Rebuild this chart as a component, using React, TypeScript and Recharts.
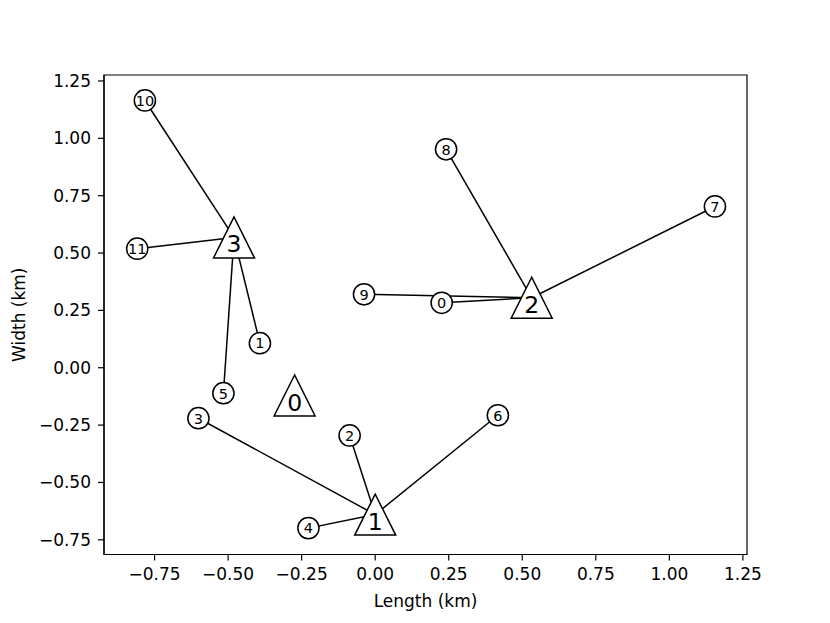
import { ScatterChart, Scatter, XAxis, YAxis, ReferenceArea } from 'recharts';

// turbines (circles), index = label
const turbineX = [0.226, -0.392, -0.087, -0.601, -0.227, -0.516, 0.417, 1.155, 0.241, -0.038, -0.783, -0.809];
const turbineY = [0.283, 0.107, -0.295, -0.220, -0.699, -0.111, -0.207, 0.703, 0.952, 0.320, 1.165, 0.519];

// substations (triangles), index = label
const subX = [-0.274, 0.0, 0.532, -0.480];
const subY = [-0.121, -0.64, 0.305, 0.568];

// [substation, turbine]
const links = [
  [3, 10], [3, 11], [3, 1], [3, 5],
  [2, 8], [2, 7], [2, 9], [2, 0],
  [1, 3], [1, 2], [1, 4], [1, 6],
];

const xTicks = [-0.75, -0.5, -0.25, 0, 0.25, 0.5, 0.75, 1.0, 1.25];
const yTicks = [-0.75, -0.5, -0.25, 0, 0.25, 0.5, 0.75, 1.0, 1.25];
const xDomain: [number, number] = [-0.922, 1.264];
const yDomain: [number, number] = [-0.814, 1.276];

const FONT = '"DejaVu Sans", sans-serif';

const turbines = turbineX.map((x, i) => ({ x, y: turbineY[i], label: String(i) }));
const subs = subX.map((x, i) => ({ x, y: subY[i], label: String(i) }));
const edges = links.map(([s, t]) => [
  { x: subX[s], y: subY[s] },
  { x: turbineX[t], y: turbineY[t] },
]);

const fmt = (v: number) => v.toFixed(2).replace('-', '\u2212');

const Circle = (props: any) => {
  const { cx, cy, payload } = props;
  return (
    <g>
      <circle cx={cx} cy={cy} r={10.6} fill="#fff" stroke="#000" strokeWidth={1.5} />
      <text x={cx} y={cy + 5.3} textAnchor="middle" fontSize={14.5} fontFamily={FONT} fill="#000">
        {payload.label}
      </text>
    </g>
  );
};

const Triangle = (props: any) => {
  const { cx, cy, payload } = props;
  const h = 20.5;
  return (
    <g>
      <polygon
        points={`${cx},${cy - h} ${cx - h},${cy + h} ${cx + h},${cy + h}`}
        fill="#fff"
        stroke="#000"
        strokeWidth={1.5}
        strokeLinejoin="miter"
      />
      <text x={cx} y={cy + 15} textAnchor="middle" fontSize={23.5} fontFamily={FONT} fill="#000">
        {payload.label}
      </text>
    </g>
  );
};

const tickStyle = { fill: '#000', fontSize: 17, fontFamily: FONT };

export default function App() {
  return (
    <div style={{ position: 'absolute', left: 0, top: 0, background: '#fff' }}>
      <ScatterChart width={830} height={623} margin={{ top: 75, right: 83, bottom: 0, left: 0 }}>
        <XAxis
          type="number"
          dataKey="x"
          domain={xDomain}
          allowDataOverflow
          ticks={xTicks}
          tickFormatter={fmt}
          height={68.5}
          tickSize={6}
          tickMargin={7}
          tick={tickStyle}
          axisLine={{ stroke: '#000', strokeWidth: 1.2 }}
          tickLine={{ stroke: '#000', strokeWidth: 1.2 }}
          label={({ viewBox }: any) => (
            <text
              x={viewBox.x + viewBox.width / 2}
              y={viewBox.y + 52}
              textAnchor="middle"
              fontSize={17}
              fontFamily={FONT}
              fill="#000"
            >
              Length (km)
            </text>
          )}
        />
        <YAxis
          type="number"
          dataKey="y"
          domain={yDomain}
          allowDataOverflow
          ticks={yTicks}
          tickFormatter={fmt}
          width={104}
          tickSize={6}
          tickMargin={7}
          tick={tickStyle}
          axisLine={{ stroke: '#000', strokeWidth: 1.2 }}
          tickLine={{ stroke: '#000', strokeWidth: 1.2 }}
          label={({ viewBox }: any) => {
            const x = viewBox.x + 25;
            const y = viewBox.y + viewBox.height / 2;
            return (
              <text
                x={x}
                y={y}
                transform={`rotate(-90 ${x} ${y})`}
                textAnchor="middle"
                fontSize={17}
                fontFamily={FONT}
                fill="#000"
              >
                Width (km)
              </text>
            );
          }}
        />
        <ReferenceArea
          x1={xDomain[0]}
          x2={xDomain[1]}
          y1={yDomain[0]}
          y2={yDomain[1]}
          fill="none"
          stroke="#000"
          strokeWidth={1.2}
          fillOpacity={0}
        />
        {edges.map((e, i) => (
          <Scatter
            key={`edge-${i}`}
            data={e}
            line={{ stroke: '#000', strokeWidth: 1.5 }}
            shape={() => <g />}
            isAnimationActive={false}
            legendType="none"
          />
        ))}
        <Scatter data={subs} shape={Triangle} isAnimationActive={false} />
        <Scatter data={turbines} shape={Circle} isAnimationActive={false} />
      </ScatterChart>
    </div>
  );
}
